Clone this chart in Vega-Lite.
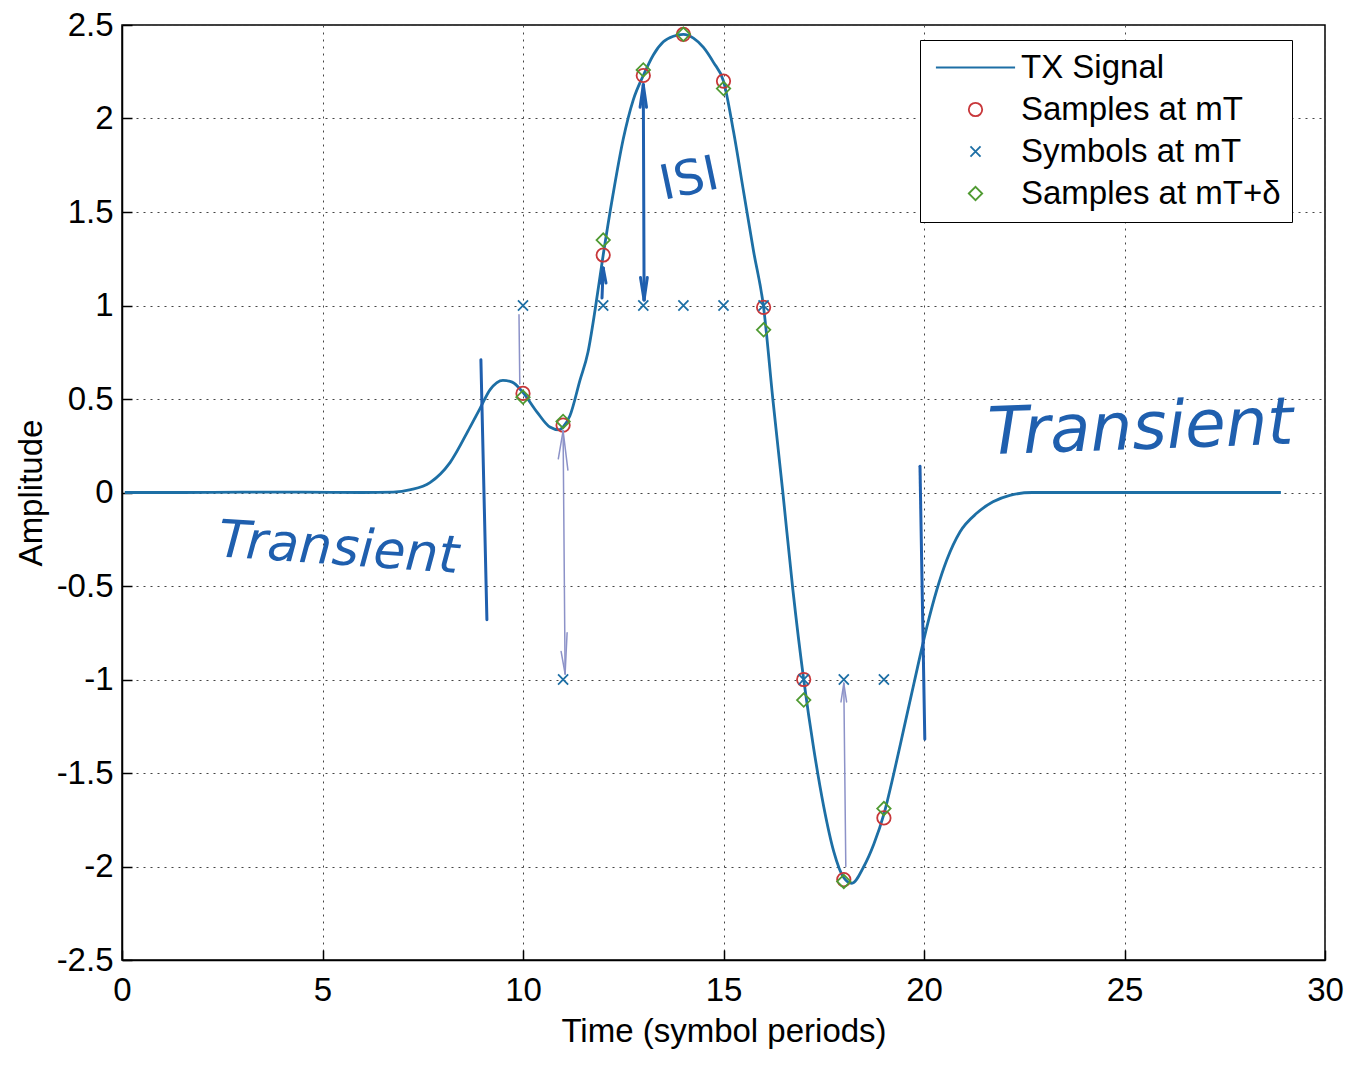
{
  "$schema": "https://vega.github.io/schema/vega-lite/v6.json",
  "width": 1203,
  "height": 935,
  "autosize": {"type": "none"},
  "padding": {"left": 122, "top": 25, "right": 23, "bottom": 107},
  "background": "white",
  "config": {
    "font": "Liberation Sans",
    "view": {"stroke": "black", "strokeWidth": 1.5},
    "axis": {
      "grid": true,
      "gridDash": [2, 5],
      "gridColor": "#444444",
      "gridOpacity": 1,
      "gridWidth": 1,
      "domainColor": "black",
      "domainWidth": 1.5,
      "tickColor": "black",
      "tickWidth": 1.5,
      "tickSize": -10,
      "labelFontSize": 33,
      "labelColor": "black",
      "labelFlush": false,
      "labelOverlap": false,
      "titleFontSize": 33,
      "titleFontWeight": "normal",
      "titleColor": "black"
    }
  },
  "datasets": {
    "signal": [
      {"t": 0.07, "amp": 0, "series": "TX Signal"},
      {"t": 1.5, "amp": 0, "series": "TX Signal"},
      {"t": 3.0, "amp": 0.002, "series": "TX Signal"},
      {"t": 4.5, "amp": 0.002, "series": "TX Signal"},
      {"t": 6.0, "amp": 0, "series": "TX Signal"},
      {"t": 6.76, "amp": 0.002, "series": "TX Signal"},
      {"t": 7.2, "amp": 0.015, "series": "TX Signal"},
      {"t": 7.68, "amp": 0.053, "series": "TX Signal"},
      {"t": 8.18, "amp": 0.16, "series": "TX Signal"},
      {"t": 8.68, "amp": 0.35, "series": "TX Signal"},
      {"t": 8.93, "amp": 0.45, "series": "TX Signal"},
      {"t": 9.18, "amp": 0.55, "series": "TX Signal"},
      {"t": 9.5, "amp": 0.6, "series": "TX Signal"},
      {"t": 9.73, "amp": 0.59, "series": "TX Signal"},
      {"t": 9.98, "amp": 0.54, "series": "TX Signal"},
      {"t": 10.35, "amp": 0.43, "series": "TX Signal"},
      {"t": 10.67, "amp": 0.35, "series": "TX Signal"},
      {"t": 10.9, "amp": 0.335, "series": "TX Signal"},
      {"t": 11.0, "amp": 0.35, "series": "TX Signal"},
      {"t": 11.17, "amp": 0.41, "series": "TX Signal"},
      {"t": 11.42, "amp": 0.6, "series": "TX Signal"},
      {"t": 11.62, "amp": 0.75, "series": "TX Signal"},
      {"t": 11.8, "amp": 0.98, "series": "TX Signal"},
      {"t": 12.0, "amp": 1.27, "series": "TX Signal"},
      {"t": 12.25, "amp": 1.6, "series": "TX Signal"},
      {"t": 12.5, "amp": 1.89, "series": "TX Signal"},
      {"t": 12.75, "amp": 2.1, "series": "TX Signal"},
      {"t": 13.0, "amp": 2.23, "series": "TX Signal"},
      {"t": 13.25, "amp": 2.34, "series": "TX Signal"},
      {"t": 13.5, "amp": 2.41, "series": "TX Signal"},
      {"t": 13.75, "amp": 2.44, "series": "TX Signal"},
      {"t": 14.0, "amp": 2.45, "series": "TX Signal"},
      {"t": 14.25, "amp": 2.43, "series": "TX Signal"},
      {"t": 14.5, "amp": 2.38, "series": "TX Signal"},
      {"t": 14.75, "amp": 2.3, "series": "TX Signal"},
      {"t": 15.0, "amp": 2.2, "series": "TX Signal"},
      {"t": 15.25, "amp": 1.93, "series": "TX Signal"},
      {"t": 15.5, "amp": 1.61, "series": "TX Signal"},
      {"t": 15.75, "amp": 1.29, "series": "TX Signal"},
      {"t": 16.0, "amp": 0.99, "series": "TX Signal"},
      {"t": 16.23, "amp": 0.5, "series": "TX Signal"},
      {"t": 16.48, "amp": 0.0, "series": "TX Signal"},
      {"t": 16.73, "amp": -0.52, "series": "TX Signal"},
      {"t": 17.0, "amp": -1.0, "series": "TX Signal"},
      {"t": 17.25, "amp": -1.37, "series": "TX Signal"},
      {"t": 17.5, "amp": -1.68, "series": "TX Signal"},
      {"t": 17.75, "amp": -1.92, "series": "TX Signal"},
      {"t": 18.0, "amp": -2.06, "series": "TX Signal"},
      {"t": 18.2, "amp": -2.09, "series": "TX Signal"},
      {"t": 18.5, "amp": -2.0, "series": "TX Signal"},
      {"t": 18.75, "amp": -1.88, "series": "TX Signal"},
      {"t": 19.0, "amp": -1.72, "series": "TX Signal"},
      {"t": 19.25, "amp": -1.5, "series": "TX Signal"},
      {"t": 19.5, "amp": -1.26, "series": "TX Signal"},
      {"t": 19.75, "amp": -1.02, "series": "TX Signal"},
      {"t": 20.07, "amp": -0.72, "series": "TX Signal"},
      {"t": 20.32, "amp": -0.52, "series": "TX Signal"},
      {"t": 20.57, "amp": -0.36, "series": "TX Signal"},
      {"t": 20.9, "amp": -0.21, "series": "TX Signal"},
      {"t": 21.32, "amp": -0.11, "series": "TX Signal"},
      {"t": 21.72, "amp": -0.05, "series": "TX Signal"},
      {"t": 22.14, "amp": -0.015, "series": "TX Signal"},
      {"t": 22.7, "amp": 0, "series": "TX Signal"},
      {"t": 25.0, "amp": 0, "series": "TX Signal"},
      {"t": 27.0, "amp": 0, "series": "TX Signal"},
      {"t": 28.9, "amp": 0, "series": "TX Signal"}
    ],
    "samples": [
      {"t": 10, "amp": 0.53, "series": "Samples at mT"},
      {"t": 11, "amp": 0.36, "series": "Samples at mT"},
      {"t": 12, "amp": 1.27, "series": "Samples at mT"},
      {"t": 13, "amp": 2.23, "series": "Samples at mT"},
      {"t": 14, "amp": 2.45, "series": "Samples at mT"},
      {"t": 15, "amp": 2.2, "series": "Samples at mT"},
      {"t": 16, "amp": 0.99, "series": "Samples at mT"},
      {"t": 17, "amp": -1.0, "series": "Samples at mT"},
      {"t": 18, "amp": -2.07, "series": "Samples at mT"},
      {"t": 19, "amp": -1.74, "series": "Samples at mT"},
      {"t": 10, "amp": 1, "series": "Symbols at mT"},
      {"t": 11, "amp": -1, "series": "Symbols at mT"},
      {"t": 12, "amp": 1, "series": "Symbols at mT"},
      {"t": 13, "amp": 1, "series": "Symbols at mT"},
      {"t": 14, "amp": 1, "series": "Symbols at mT"},
      {"t": 15, "amp": 1, "series": "Symbols at mT"},
      {"t": 16, "amp": 1, "series": "Symbols at mT"},
      {"t": 17, "amp": -1, "series": "Symbols at mT"},
      {"t": 18, "amp": -1, "series": "Symbols at mT"},
      {"t": 19, "amp": -1, "series": "Symbols at mT"},
      {"t": 10, "amp": 0.51, "series": "Samples at mT+δ"},
      {"t": 11, "amp": 0.38, "series": "Samples at mT+δ"},
      {"t": 12, "amp": 1.35, "series": "Samples at mT+δ"},
      {"t": 13, "amp": 2.26, "series": "Samples at mT+δ"},
      {"t": 14, "amp": 2.45, "series": "Samples at mT+δ"},
      {"t": 15, "amp": 2.16, "series": "Samples at mT+δ"},
      {"t": 16, "amp": 0.87, "series": "Samples at mT+δ"},
      {"t": 17, "amp": -1.11, "series": "Samples at mT+δ"},
      {"t": 18, "amp": -2.08, "series": "Samples at mT+δ"},
      {"t": 19, "amp": -1.69, "series": "Samples at mT+δ"}
    ],
    "pen": [
      {"pen": "thick", "t": 8.95, "amp": 0.71, "t2": 9.1, "amp2": -0.68},
      {"pen": "thick", "t": 19.9, "amp": 0.14, "t2": 20.02, "amp2": -1.32},
      {"pen": "thick", "t": 13.0, "amp": 2.18, "t2": 13.02, "amp2": 1.03},
      {"pen": "thick", "t": 12.93, "amp": 1.15, "t2": 13.02, "amp2": 1.03},
      {"pen": "thick", "t": 13.1, "amp": 1.15, "t2": 13.02, "amp2": 1.03},
      {"pen": "thick", "t": 12.92, "amp": 2.06, "t2": 13.0, "amp2": 2.18},
      {"pen": "thick", "t": 13.08, "amp": 2.06, "t2": 13.0, "amp2": 2.18},
      {"pen": "thick", "t": 11.97, "amp": 1.04, "t2": 12.0, "amp2": 1.2},
      {"pen": "thick", "t": 11.93, "amp": 1.12, "t2": 12.0, "amp2": 1.2},
      {"pen": "thick", "t": 12.07, "amp": 1.12, "t2": 12.0, "amp2": 1.2},
      {"pen": "thin", "t": 9.9, "amp": 0.95, "t2": 9.92, "amp2": 0.58},
      {"pen": "thin", "t": 11.05, "amp": -0.97, "t2": 11.0, "amp2": 0.33},
      {"pen": "thin", "t": 10.88, "amp": 0.18, "t2": 11.0, "amp2": 0.33},
      {"pen": "thin", "t": 11.12, "amp": 0.12, "t2": 11.0, "amp2": 0.33},
      {"pen": "thin", "t": 10.95, "amp": -0.85, "t2": 11.05, "amp2": -0.97},
      {"pen": "thin", "t": 11.1, "amp": -0.75, "t2": 11.05, "amp2": -0.97},
      {"pen": "thin", "t": 18.0, "amp": -1.02, "t2": 18.05, "amp2": -2.0},
      {"pen": "thin", "t": 17.93, "amp": -1.12, "t2": 18.0, "amp2": -1.02},
      {"pen": "thin", "t": 18.07, "amp": -1.12, "t2": 18.0, "amp2": -1.02}
    ],
    "notes": [
      {"label": "Transient", "t": 5.4, "amp": -0.3, "kind": "left"},
      {"label": "Transient", "t": 25.4, "amp": 0.34, "kind": "right"},
      {"label": "ISI", "t": 14.15, "amp": 1.67, "kind": "isi"}
    ]
  },
  "encoding": {
    "x": {
      "field": "t",
      "type": "quantitative",
      "scale": {"domain": [0, 30], "nice": false, "zero": false},
      "axis": {
        "title": "Time (symbol periods)",
        "values": [0, 5, 10, 15, 20, 25, 30],
        "labelExpr": "toString(datum.value)",
        "labelPadding": 24,
        "titlePadding": 8
      }
    },
    "y": {
      "field": "amp",
      "type": "quantitative",
      "scale": {"domain": [-2.5, 2.5], "nice": false, "zero": false},
      "axis": {
        "title": "Amplitude",
        "values": [-2.5, -2, -1.5, -1, -0.5, 0, 0.5, 1, 1.5, 2, 2.5],
        "labelExpr": "toString(datum.value)",
        "labelPadding": 19,
        "titlePadding": 8
      }
    }
  },
  "layer": [
    {
      "data": {"name": "signal"},
      "mark": {"type": "line", "strokeWidth": 2.8, "interpolate": "monotone"},
      "encoding": {
        "color": {
          "field": "series",
          "type": "nominal",
          "scale": {
            "domain": ["TX Signal", "Samples at mT", "Symbols at mT", "Samples at mT+δ"],
            "range": ["#1d6fa5", "#c8373a", "#1d6fa5", "#4f9a31"]
          },
          "legend": {
            "title": null,
            "orient": "none",
            "legendX": 798,
            "legendY": 15,
            "strokeColor": "black",
            "fillColor": "white",
            "padding": 11,
            "labelFontSize": 33,
            "labelColor": "black",
            "labelLimit": 400,
            "symbolSize": 180,
            "symbolStrokeWidth": 1.8,
            "symbolOffset": 28,
            "labelOffset": 29,
            "rowPadding": 8
          }
        }
      }
    },
    {
      "data": {"name": "samples"},
      "mark": {"type": "point", "filled": false, "size": 180, "strokeWidth": 1.8, "opacity": 1},
      "encoding": {
        "color": {
          "field": "series",
          "type": "nominal",
          "scale": {
            "domain": ["TX Signal", "Samples at mT", "Symbols at mT", "Samples at mT+δ"],
            "range": ["#1d6fa5", "#c8373a", "#1d6fa5", "#4f9a31"]
          },
          "legend": {
            "title": null,
            "orient": "none",
            "legendX": 798,
            "legendY": 15,
            "strokeColor": "black",
            "fillColor": "white",
            "padding": 11,
            "labelFontSize": 33,
            "labelColor": "black",
            "labelLimit": 400,
            "symbolSize": 180,
            "symbolStrokeWidth": 1.8,
            "symbolOffset": 28,
            "labelOffset": 29,
            "rowPadding": 8
          }
        },
        "shape": {
          "field": "series",
          "type": "nominal",
          "scale": {
            "domain": ["TX Signal", "Samples at mT", "Symbols at mT", "Samples at mT+δ"],
            "range": ["M-5.9,0L5.9,0", "circle", "M-0.75,-0.75L0.75,0.75M-0.75,0.75L0.75,-0.75", "diamond"]
          },
          "legend": {
            "title": null,
            "orient": "none",
            "legendX": 798,
            "legendY": 15,
            "strokeColor": "black",
            "fillColor": "white",
            "padding": 11,
            "labelFontSize": 33,
            "labelColor": "black",
            "labelLimit": 400,
            "symbolSize": 180,
            "symbolStrokeWidth": 1.8,
            "symbolOffset": 28,
            "labelOffset": 29,
            "rowPadding": 8
          }
        }
      }
    },
    {
      "data": {"name": "pen"},
      "transform": [{"filter": "datum.pen === 'thick'"}],
      "mark": {"type": "rule", "color": "#1f5fae", "strokeWidth": 3, "strokeCap": "round"},
      "encoding": {
        "x2": {"field": "t2"},
        "y2": {"field": "amp2"}
      }
    },
    {
      "data": {"name": "pen"},
      "transform": [{"filter": "datum.pen === 'thin'"}],
      "mark": {"type": "rule", "color": "#8c92c8", "strokeWidth": 1.5, "strokeCap": "round"},
      "encoding": {
        "x2": {"field": "t2"},
        "y2": {"field": "amp2"}
      }
    },
    {
      "data": {"name": "notes"},
      "transform": [{"filter": "datum.kind === 'left'"}],
      "mark": {"type": "text", "font": "DejaVu Sans", "fontSize": 52, "color": "#1f5fae", "angle": 4, "fontStyle": "italic"},
      "encoding": {"text": {"field": "label"}}
    },
    {
      "data": {"name": "notes"},
      "transform": [{"filter": "datum.kind === 'right'"}],
      "mark": {"type": "text", "font": "DejaVu Sans", "fontSize": 66, "color": "#1f5fae", "angle": -2, "fontStyle": "italic"},
      "encoding": {"text": {"field": "label"}}
    },
    {
      "data": {"name": "notes"},
      "transform": [{"filter": "datum.kind === 'isi'"}],
      "mark": {"type": "text", "font": "DejaVu Sans", "fontSize": 48, "color": "#1f5fae", "angle": -12},
      "encoding": {"text": {"field": "label"}}
    }
  ]
}
